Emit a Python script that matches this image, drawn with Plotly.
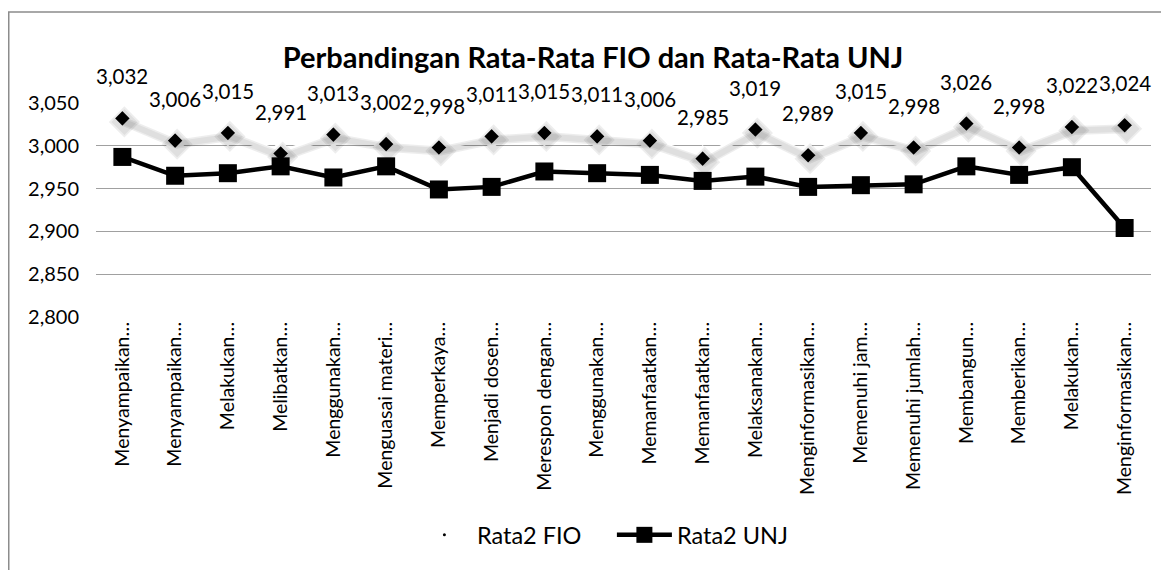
import plotly.graph_objects as go

categories = [
    "Menyampaikan…", "Menyampaikan…", "Melakukan…", "Melibatkan…", "Menggunakan…",
    "Menguasai materi…", "Memperkaya…", "Menjadi dosen…", "Merespon dengan…", "Menggunakan…",
    "Memanfaatkan…", "Memanfaatkan…", "Melaksanakan…", "Menginformasikan…", "Memenuhi jam…",
    "Memenuhi jumlah…", "Membangun…", "Memberikan…", "Melakukan…", "Menginformasikan…",
]
fio = [3.032, 3.006, 3.015, 2.991, 3.013, 3.002, 2.998, 3.011, 3.015, 3.011,
       3.006, 2.985, 3.019, 2.989, 3.015, 2.998, 3.026, 2.998, 3.022, 3.024]
unj = [2.987, 2.965, 2.968, 2.976, 2.963, 2.976, 2.949, 2.952, 2.970, 2.968,
       2.966, 2.959, 2.964, 2.952, 2.954, 2.955, 2.976, 2.966, 2.975, 2.904]
y_ticks = [2.80, 2.85, 2.90, 2.95, 3.00, 3.05]

idx = list(range(len(categories)))
FONT = "Lato"

# layout geometry (px)
W, H = 1161, 562
ML, MR, MT, MB = 88, 18, 95, 253
PW, PH = W - ML - MR, H - MT - MB
Y0, Y1 = 2.8, 3.05
X0, X1 = -0.5, len(categories) - 0.5
# shadow offset (px) -> expressed as axis range shift
sdx = 2 * (X1 - X0) / PW
sdy = 3.5 * (Y1 - Y0) / PH

fig = go.Figure()

# soft shadow under the FIO line (drawn on an offset overlay axis)
fig.add_trace(go.Scatter(
    x=idx, y=fio, mode="lines+markers", showlegend=False, hoverinfo="skip",
    xaxis="x2", yaxis="y2",
    line=dict(color="rgba(0,0,0,0.07)", width=9),
    marker=dict(symbol="diamond", size=24, color="rgba(0,0,0,0.07)"),
))
fig.add_trace(go.Scatter(
    x=idx, y=fio, mode="lines+markers", showlegend=False, hoverinfo="skip",
    xaxis="x2", yaxis="y2",
    line=dict(color="rgba(0,0,0,0.06)", width=6),
    marker=dict(symbol="diamond", size=20, color="rgba(0,0,0,0.06)"),
))
# FIO: white line, black diamonds with white outline
fig.add_trace(go.Scatter(
    x=idx, y=fio, mode="lines+markers", name="Rata2 FIO", showlegend=False,
    line=dict(color="white", width=6),
    marker=dict(symbol="diamond", size=16, color="black", line=dict(color="white", width=4.5)),
))
# UNJ: black line with squares
fig.add_trace(go.Scatter(
    x=idx, y=unj, mode="lines+markers", name="Rata2 UNJ",
    line=dict(color="black", width=4.5),
    marker=dict(symbol="square", size=18, color="black"),
))
# legend-only entry for FIO (tiny dot as in the original)
fig.add_trace(go.Scatter(
    x=[None], y=[None], mode="markers", name="Rata2 FIO",
    marker=dict(symbol="circle", size=3, color="black"),
))

# data labels for FIO
for i, v in zip(idx, fio):
    fig.add_annotation(x=i, y=v, text=f"{v:.3f}".replace(".", ","), showarrow=False,
                       yshift=42, font=dict(family=FONT, size=20.5, color="black"))

fig.update_layout(
    width=W, height=H,
    margin=dict(l=ML, r=MR, t=MT, b=MB),
    paper_bgcolor="white", plot_bgcolor="white",
    separators=", ",
    title=dict(text="<b>Perbandingan Rata-Rata FIO dan Rata-Rata UNJ</b>",
               x=(593 - 8) / W, xanchor="center", y=1 - 50 / H, yanchor="middle",
               font=dict(family=FONT, size=29, color="black")),
    font=dict(family=FONT, color="black"),
    xaxis=dict(
        tickmode="array", tickvals=idx, ticktext=categories, tickangle=-90,
        range=[X0, X1], showgrid=False, zeroline=False,
        tickfont=dict(family=FONT, size=19.5, color="black"), ticks="",
        showline=False,
    ),
    yaxis=dict(
        range=[Y0, Y1], tickvals=y_ticks, tickformat=".3f",
        showgrid=True, gridcolor="#a0a0a0", gridwidth=1, zeroline=False,
        tickfont=dict(family=FONT, size=20, color="black"), ticks="",
        ticklabelstandoff=16, showline=False,
    ),
    xaxis2=dict(overlaying="x", range=[X0 - sdx, X1 - sdx], visible=False),
    yaxis2=dict(overlaying="y", range=[Y0 + sdy, Y1 + sdy], visible=False),
    legend=dict(orientation="h", x=0.489, xanchor="center", y=-1.019, yanchor="middle",
                font=dict(family=FONT, size=23.5, color="black"), traceorder="reversed",
                itemwidth=55, entrywidth=130),
    shapes=[dict(type="rect", xref="paper", yref="paper",
                 x0=(0.75 - ML) / PW, x1=1.03, y0=-1.3, y1=1 + (MT - 4) / PH,
                 line=dict(color="#8c8c8c", width=1.5), fillcolor="rgba(0,0,0,0)", layer="below")],
)

fig.write_html("out.html")
